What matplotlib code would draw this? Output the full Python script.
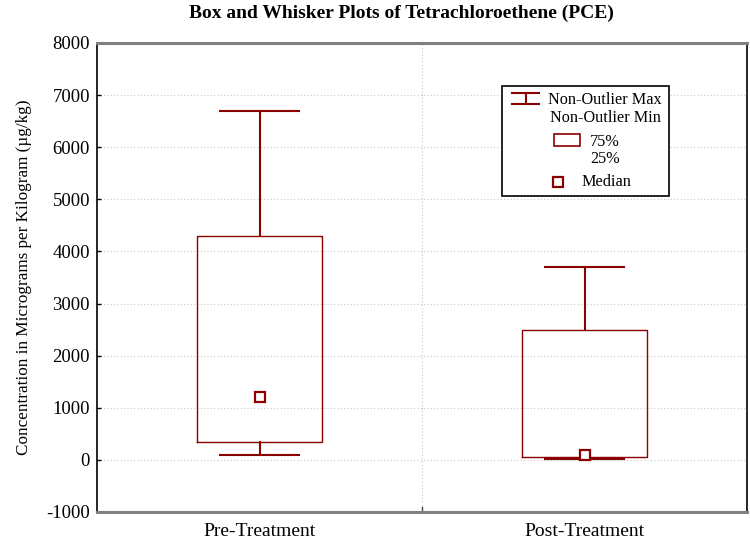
import matplotlib
matplotlib.use("Agg")
import matplotlib.pyplot as plt
from matplotlib.patches import Rectangle
from matplotlib.lines import Line2D

plt.rcParams['font.family'] = ['Liberation Serif', 'DejaVu Serif']

# Data
categories = ["Pre-Treatment", "Post-Treatment"]
whisker_max = [6700, 3700]
q3 = [4300, 2500]
median = [1200, 100]
q1 = [350, 60]
whisker_min = [90, 25]
y_ticks = [-1000, 0, 1000, 2000, 3000, 4000, 5000, 6000, 7000, 8000]

RED = '#8B0000'
W, H = 750, 548
fig = plt.figure(figsize=(W / 100, H / 100), dpi=100)
ax = fig.add_axes([97 / W, 1 - 512 / H, 650 / W, 469 / H])

positions = list(range(1, len(categories) + 1))
stats = []
for i, c in enumerate(categories):
    stats.append(dict(label=c, med=median[i], q1=q1[i], q3=q3[i],
                      whislo=whisker_min[i], whishi=whisker_max[i], fliers=[]))

ax.bxp(stats, positions=positions, widths=0.385, capwidths=0.243,
       showfliers=False,
       boxprops=dict(color=RED, linewidth=1.0),
       whiskerprops=dict(color=RED, linewidth=1.5),
       capprops=dict(color=RED, linewidth=1.5),
       medianprops=dict(linewidth=0),
       zorder=3)
ax.plot(positions, median, linestyle='none', marker='s', markersize=7,
        markerfacecolor='white', markeredgecolor=RED, markeredgewidth=1.6,
        zorder=4)

ax.set_xlim(0.5, len(categories) + 0.5)
ax.set_ylim(-1000, 8000)
ax.set_yticks(y_ticks)
ax.set_yticklabels([str(v) for v in y_ticks], fontsize=13.5)
ax.set_xticks(positions)
ax.set_xticklabels(categories, fontsize=14)
ax.tick_params(axis='x', length=0, pad=8)
ax.tick_params(axis='y', direction='in', length=3, width=1, pad=5)

# grid
for v in y_ticks[1:-1]:
    ax.axhline(v, color='#c8c8c8', linestyle=(0, (1, 2)), linewidth=0.8, zorder=1)
for k in range(1, len(categories)):
    ax.axvline(k + 0.5, color='#c8c8c8', linestyle=(0, (1, 2)), linewidth=0.8, zorder=1)
ax.plot([1.5, 1.5], [-1000, -1000 + 90], color='#444444', linewidth=1, zorder=2)

for s in ['left', 'right']:
    ax.spines[s].set_color('black')
    ax.spines[s].set_linewidth(1.2)
for s in ['top', 'bottom']:
    ax.spines[s].set_color('#808080')
    ax.spines[s].set_linewidth(2.2)

ax.set_ylabel("Concentration in Micrograms per Kilogram (µg/kg)", fontsize=12.3, labelpad=10)

fig.text(401 / W, 1 - 13 / H, "Box and Whisker Plots of Tetrachloroethene (PCE)",
         ha='center', va='center', fontsize=14, fontweight='bold')

# legend (custom)
def fx(x):
    return x / W

def fy(y):
    return 1 - y / H

fig.add_artist(Rectangle((fx(502), fy(196)), fx(669) - fx(502), fy(86) - fy(196),
                         transform=fig.transFigure, facecolor='white',
                         edgecolor='black', linewidth=1.2, zorder=5))
# whisker glyph
for yy in (93, 104):
    fig.add_artist(Line2D([fx(512), fx(539)], [fy(yy), fy(yy)], transform=fig.transFigure,
                          color=RED, linewidth=1.5, zorder=6))
fig.add_artist(Line2D([fx(525.5), fx(525.5)], [fy(93), fy(104)], transform=fig.transFigure,
                      color=RED, linewidth=1.5, zorder=6))
fig.text(fx(548), fy(100), "Non-Outlier Max", fontsize=11.7, va='center', ha='left', zorder=6)
fig.text(fx(550), fy(118), "Non-Outlier Min", fontsize=11.7, va='center', ha='left', zorder=6)
fig.add_artist(Rectangle((fx(554), fy(146)), fx(580) - fx(554), fy(134) - fy(146),
                         transform=fig.transFigure, facecolor='white',
                         edgecolor=RED, linewidth=1.2, zorder=6))
fig.text(fx(590), fy(142), "75%", fontsize=11.7, va='center', ha='left', zorder=6)
fig.text(fx(590), fy(159), "25%", fontsize=11.7, va='center', ha='left', zorder=6)
fig.add_artist(Rectangle((fx(552.5), fy(186.5)), fx(562.5) - fx(552.5), fy(177) - fy(186.5),
                         transform=fig.transFigure, facecolor='white',
                         edgecolor=RED, linewidth=1.6, zorder=6))
fig.text(fx(581), fy(182), "Median", fontsize=11.7, va='center', ha='left', zorder=6)

fig.savefig("out.png", dpi=100)
